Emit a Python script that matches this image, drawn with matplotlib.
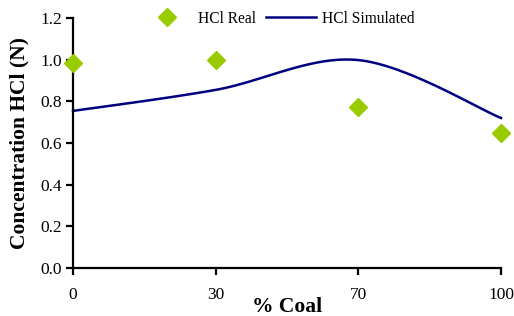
import numpy as np
import matplotlib.pyplot as plt

plt.rcParams['font.family'] = ['Liberation Serif', 'DejaVu Serif']

coal_labels = ["0", "30", "70", "100"]
hcl_real = [0.984, 0.998, 0.773, 0.648]
hcl_sim = [0.754, 0.855, 0.998, 0.72]


def smooth(xs, ys, n=40):
    # Excel-style smoothed line: cubic Bezier with Catmull-Rom controls
    pts = np.column_stack([xs, ys]).astype(float)
    p = np.vstack([pts[0], pts, pts[-1]])
    out = []
    for i in range(1, len(p) - 2):
        p0, p1, p2, p3 = p[i - 1], p[i], p[i + 1], p[i + 2]
        c1 = p1 + (p2 - p0) / 6
        c2 = p2 - (p3 - p1) / 6
        t = np.linspace(0, 1, n)[:, None]
        seg = ((1 - t) ** 3) * p1 + 3 * ((1 - t) ** 2) * t * c1 \
            + 3 * (1 - t) * t ** 2 * c2 + t ** 3 * p2
        out.append(seg)
    out = np.vstack(out)
    return out[:, 0], out[:, 1]


x = np.arange(len(coal_labels))
sx, sy = smooth(x, hcl_sim)

fig = plt.figure(figsize=(5.14, 3.16), dpi=100)
ax = fig.add_axes([73 / 514, 48 / 316, 428 / 514, 250 / 316])

ax.plot(x, hcl_real, linestyle="none", marker="D", markersize=9,
        color="#99CC00", label="HCl Real", clip_on=False, zorder=3)
ax.plot(sx, sy, color="#000080", linewidth=1.8, label="HCl Simulated",
        clip_on=False)

ax.set_xlim(0, 3)
ax.set_ylim(0, 1.2)
ax.set_xticks(x)
ax.set_xticklabels(coal_labels)
ax.set_yticks(np.arange(0, 1.21, 0.2))
ax.set_yticklabels([f"{v:.1f}" for v in np.arange(0, 1.21, 0.2)])

for s in ["top", "right"]:
    ax.spines[s].set_visible(False)
for s in ["left", "bottom"]:
    ax.spines[s].set_linewidth(1.6)

ax.tick_params(axis="x", length=5, width=1.6, pad=9, labelsize=12.5)
ax.tick_params(axis="y", length=5, width=1.6, pad=3, labelsize=12.5)

ax.set_xlabel("% Coal", fontsize=15.5, fontweight="bold", labelpad=-5)
ax.set_ylabel("Concentration HCl (N)", fontsize=15.5, fontweight="bold",
              labelpad=8)

ax.legend(loc="upper center", bbox_to_anchor=(0.48, 1.085), ncol=2,
          frameon=False, fontsize=11.2, handlelength=3.2,
          columnspacing=0.6, handletextpad=0.4)

fig.savefig("out.png", dpi=100)
